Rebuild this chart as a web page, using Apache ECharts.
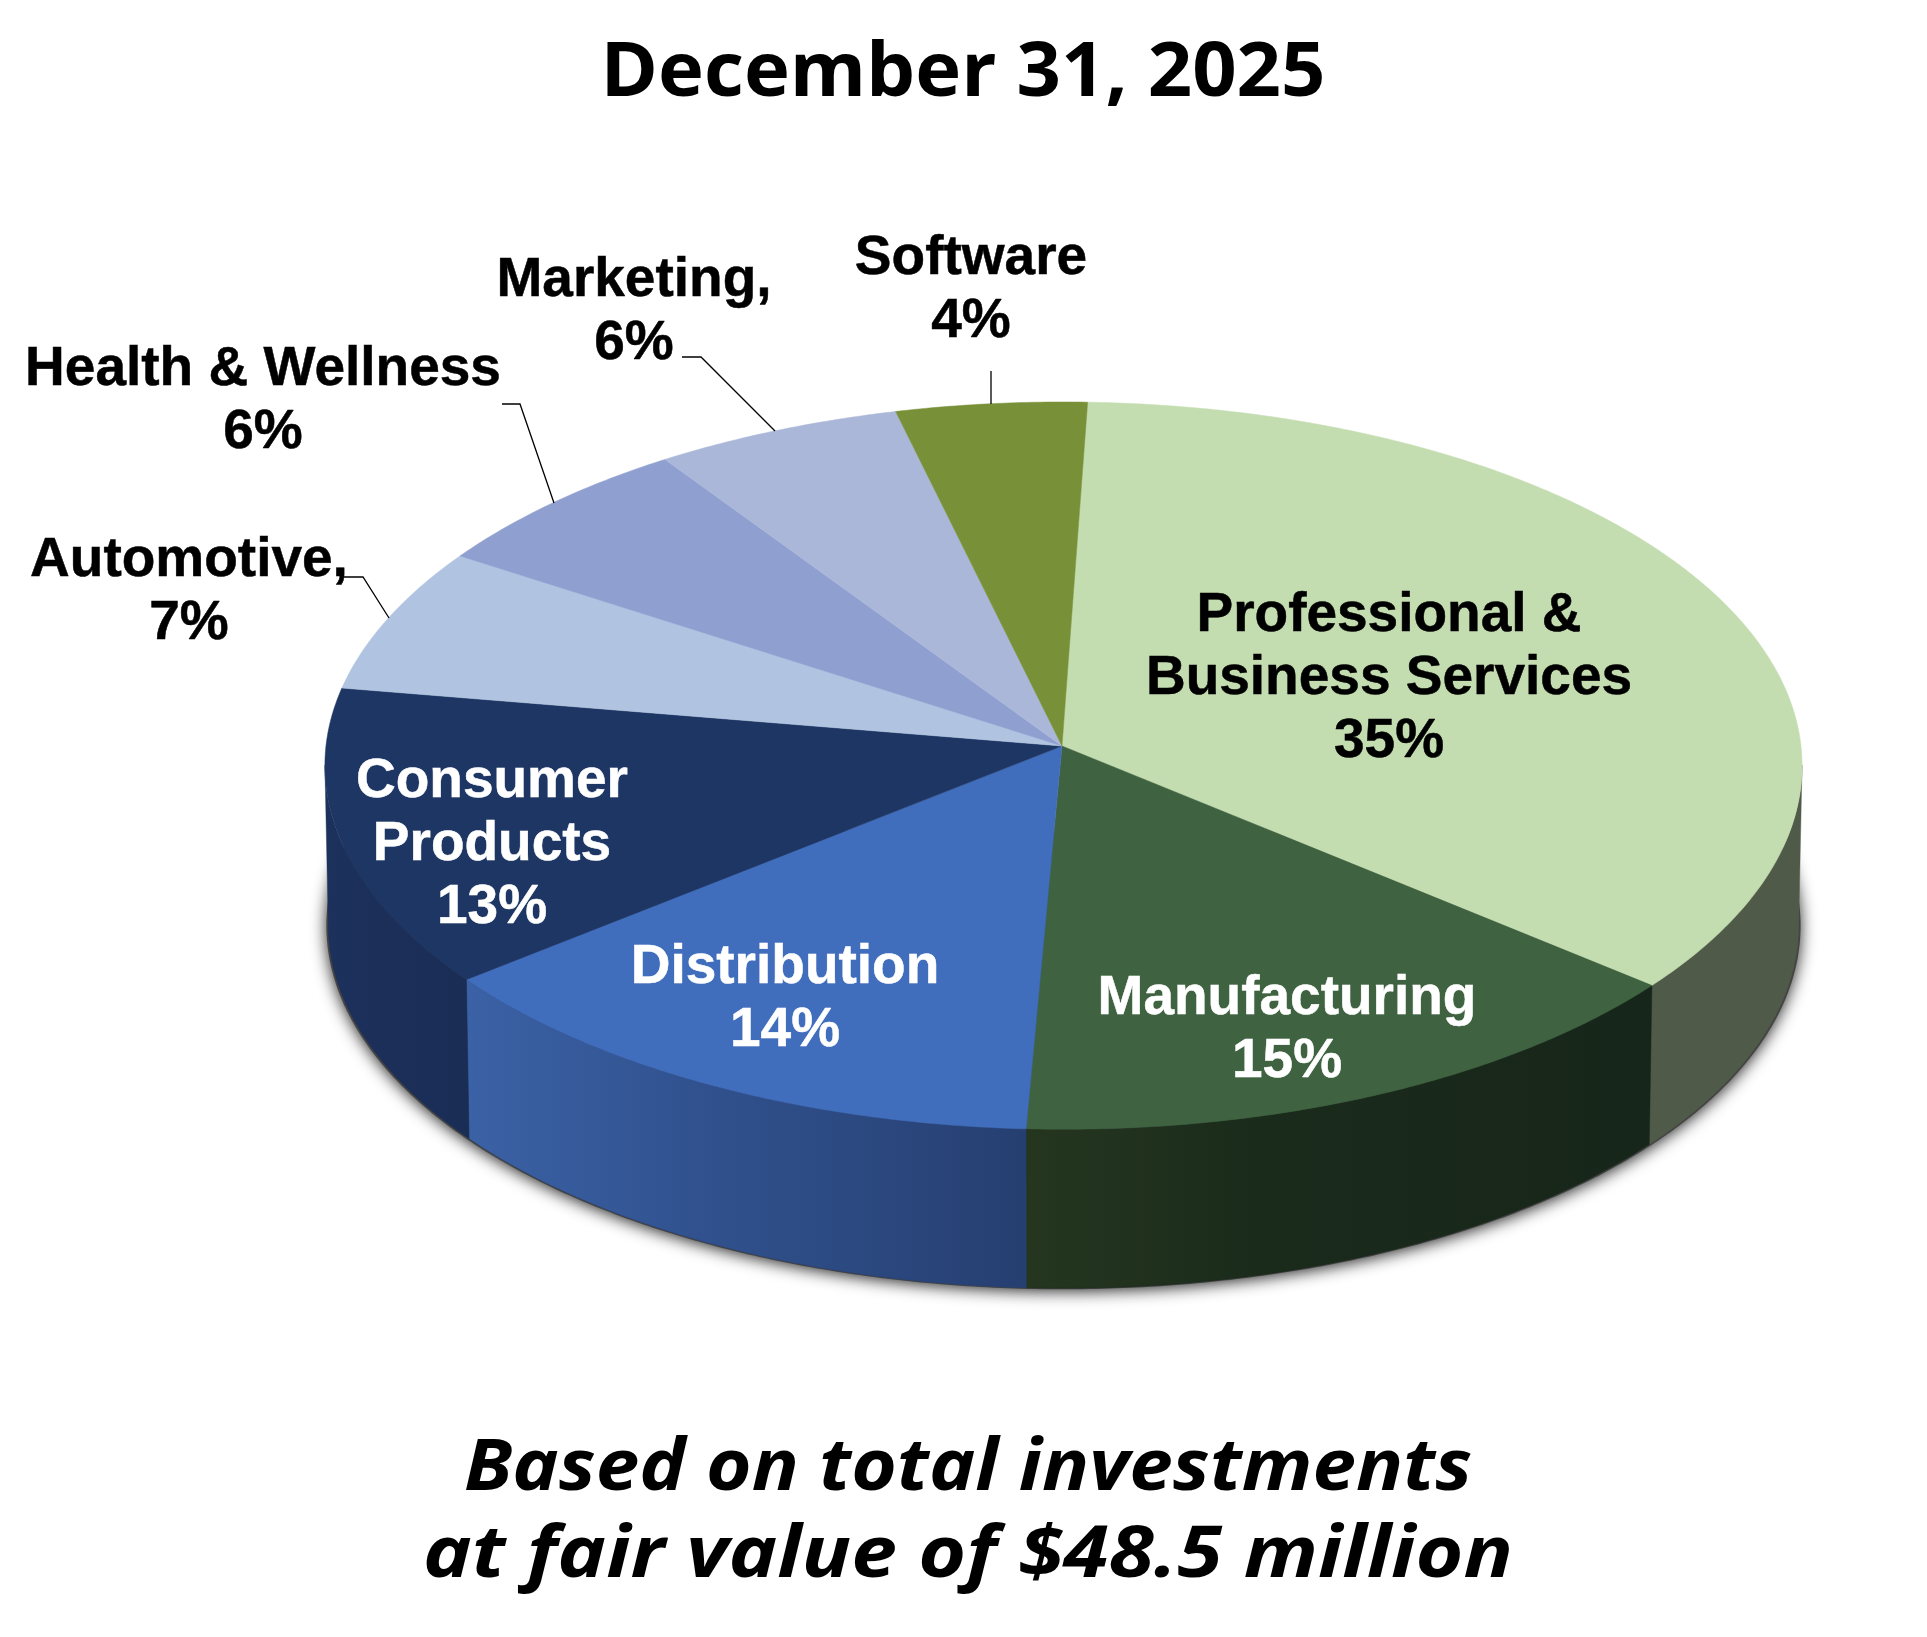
<!DOCTYPE html>
<html>
<head>
<meta charset="utf-8">
<style>html,body{margin:0;padding:0;background:#fff}#c{width:1927px;height:1637px}</style>
<script src="https://cdn.jsdelivr.net/npm/echarts@6/dist/echarts.min.js"></script>
</head>
<body>
<div id="c"></div>
<script>
const categories = ['Professional &\nBusiness Services','Manufacturing','Distribution','Consumer\nProducts','Automotive,','Health & Wellness','Marketing,','Software'];
const shares = [35.4,14.75,13.55,13.3,6.5,6.4,5.7,4.4];
const topColors = ['#c4ddb0','#3f6240','#406dbc','#1e3664','#b0c4e1','#8e9fd0','#aab7d8','#789139'];
const wallColors = [['#4f5a48','#4f5a48','#4f5a48'],['#25361f','#1a2a1b','#17261a'],['#3b62a6','#31528f','#263f71'],['#1c315c','#1b2f59','#1a2d55'],null,null,null,null];
const textColors = ['#000','#fff','#fff','#fff','#000','#000','#000','#000'];
const labelCentres = [[1389,679],[1287,1030],[785,999],[492,845],[189,592],[263,401],[634,312],[971,290]];
const leaderLines = [null,null,null,null,[[340,577],[363,577],[389,618]],[[502,404],[520,404],[554,503]],[[682,357],[701,357],[775,431]],[[991,371],[991,404]]];
const titleText = 'December 31, 2025';
const footLines = ['Based on total investments','at fair value of $48.5 million'];

const startDeg = 2.1, cx = 1062, cy = 746, rx = 737.5, ry = 362.6, persp = 0.054, perspX = 0.002, depth = 159, ringShrink = 0.9955;
const total = shares.reduce((a,b)=>a+b,0);
const project = (deg, off, shrink) => {
  const t = deg*Math.PI/180, u = Math.sin(t), v = -Math.cos(t), w = 1-persp*v-perspX*u;
  return [cx+rx*u/w*(shrink||1), cy+ry*v/w+(off||0)];
};
const arc = (a0,a1,off,shrink) => {
  const n = Math.max(2,Math.ceil(Math.abs(a1-a0)/0.5)), pts=[];
  for(let i=0;i<=n;i++) pts.push(project(a0+(a1-a0)*i/n,off,shrink));
  return pts;
};
const WALL_FROM = 93, WALL_TO = 267;

function renderItem(params, api){
  const i = params.dataIndex;
  let before = 0; for(let k=0;k<i;k++) before += shares[k];
  const a0 = startDeg+before/total*360, a1 = a0+api.value(0)/total*360;
  const children = [];
  if(i===0){
    children.push({type:'polygon',z2:0,shape:{points:arc(78,282,depth+1,0.998)},
      style:{fill:'#444',shadowBlur:16,shadowColor:'rgba(0,0,0,0.85)',shadowOffsetY:2}});
  }
  if(wallColors[i]){
    const w0=Math.max(a0,WALL_FROM), w1=Math.min(a1,WALL_TO);
    const pts=arc(w0,w1,0).concat(arc(w1,w0,depth,ringShrink));
    const c=wallColors[i];
    children.push({type:'polygon',z2:1+i,shape:{points:pts},style:{
      fill:new echarts.graphic.LinearGradient(0,0,1,0,[{offset:0,color:c[0]},{offset:0.4,color:c[1]},{offset:1,color:c[2]}]),
      stroke:c[2],lineWidth:0.4}});
  }
  children.push({type:'polygon',z2:20+i,shape:{points:[[cx,cy]].concat(arc(a0,a1,0))},
    style:{fill:topColors[i],stroke:topColors[i],lineWidth:0.5}});
  if(leaderLines[i]){
    children.push({type:'polyline',z2:40,shape:{points:leaderLines[i]},style:{fill:null,stroke:'#000',lineWidth:1.3}});
  }
  children.push({type:'text',z2:50,x:labelCentres[i][0],y:labelCentres[i][1],style:{
    text:categories[i]+'\n'+Math.round(api.value(0))+'%',
    font:'bold 55px "Liberation Sans", Arial, sans-serif',lineHeight:63,
    fill:textColors[i],stroke:textColors[i],lineWidth:0.5,align:'center',verticalAlign:'middle'}});
  return {type:'group',children};
}

const chart = echarts.init(document.getElementById('c'),null,{renderer:'canvas',width:1927,height:1637});
chart.setOption({
  animation:false,
  backgroundColor:'#fff',
  graphic:[
    {type:'text',x:963,y:74,scaleX:1.022,style:{text:titleText,font:'700 76px "Open Sans", sans-serif',fill:'#000',align:'center',verticalAlign:'middle'}},
    {type:'text',x:968,y:1469,scaleX:1.085,style:{text:footLines[0],font:'italic 700 72px "Open Sans", sans-serif',fill:'#000',align:'center',verticalAlign:'middle'}},
    {type:'text',x:968,y:1556,scaleX:1.14,style:{text:footLines[1],font:'italic 700 72px "Open Sans", sans-serif',fill:'#000',align:'center',verticalAlign:'middle'}}
  ],
  series:[{type:'custom',coordinateSystem:'none',renderItem,silent:true,
    data:shares.map((v,i)=>({name:categories[i],value:[v]}))}]
});
</script>
</body>
</html>
